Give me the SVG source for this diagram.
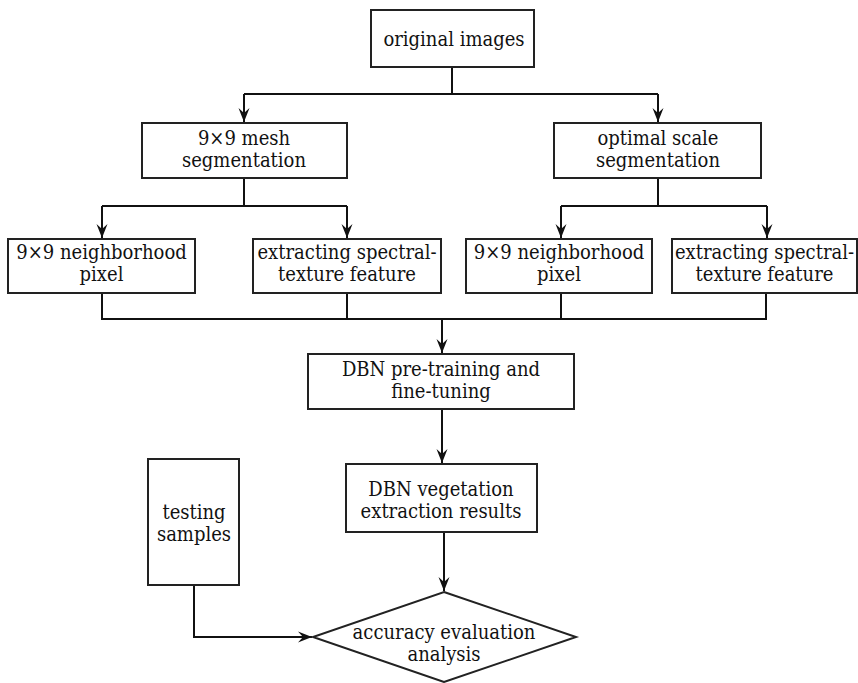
<svg xmlns="http://www.w3.org/2000/svg" width="858" height="683" viewBox="0 0 858 683">
<style>
.box{fill:#fff;stroke:#222;stroke-width:2}
.ln{fill:none;stroke:#111;stroke-width:2}
.ar{fill:none;stroke:#111;stroke-width:2;marker-end:url(#ah)}
.t{font-family:'DejaVu Serif Condensed','DejaVu Serif',serif;font-stretch:condensed;font-size:20px;fill:#111;text-anchor:middle}
</style>
<defs>
<marker id="ah" markerUnits="userSpaceOnUse" markerWidth="16" markerHeight="12" viewBox="-14 -6 16 12" refX="0" refY="0" orient="auto">
<path d="M0,0 L-14,-5.5 L-9,0 L-14,5.5 Z" fill="#111"/>
</marker>
</defs>
<rect width="858" height="683" fill="#fff"/>
<g id="connectors">
<path class="ln" d="M452,67 V94 M244,94 H658"/>
<path class="ar" d="M244,94 V122"/>
<path class="ar" d="M658,94 V122"/>
<path class="ln" d="M244,178 V206 M102,206 H347"/>
<path class="ar" d="M102,206 V238"/>
<path class="ar" d="M347,206 V238"/>
<path class="ln" d="M658,178 V206 M561,206 H767"/>
<path class="ar" d="M561,206 V238"/>
<path class="ar" d="M767,206 V238"/>
<path class="ln" d="M102,293 V319 M347,293 V319 M561,293 V319 M766,293 V319 M101,319 H767"/>
<path class="ar" d="M442,319 V353"/>
<path class="ar" d="M442,409 V463"/>
<path class="ar" d="M444,532 V591"/>
<path class="ar" d="M194,585 V637 H312"/>
</g>
<g id="original">
<rect class="box" x="371" y="10" width="163" height="57"/>
<text class="t" x="454" y="46">original images</text>
</g>
<g id="mesh">
<rect class="box" x="142" y="123" width="205" height="55"/>
<text class="t" x="244" y="145">9×9 mesh</text>
<text class="t" x="244" y="167">segmentation</text>
</g>
<g id="optimal">
<rect class="box" x="554" y="123" width="207" height="55"/>
<text class="t" x="658" y="145">optimal scale</text>
<text class="t" x="658" y="167">segmentation</text>
</g>
<g id="neigh1">
<rect class="box" x="8" y="239" width="187" height="54"/>
<text class="t" x="101.5" y="259">9×9 neighborhood</text>
<text class="t" x="101.5" y="281">pixel</text>
</g>
<g id="spec1">
<rect class="box" x="253" y="239" width="188" height="54"/>
<text class="t" x="347" y="259">extracting spectral-</text>
<text class="t" x="347" y="281">texture feature</text>
</g>
<g id="neigh2">
<rect class="box" x="466" y="239" width="186" height="54"/>
<text class="t" x="559" y="259">9×9 neighborhood</text>
<text class="t" x="559" y="281">pixel</text>
</g>
<g id="spec2">
<rect class="box" x="672" y="239" width="185" height="54"/>
<text class="t" x="764.5" y="259">extracting spectral-</text>
<text class="t" x="764.5" y="281">texture feature</text>
</g>
<g id="pretrain">
<rect class="box" x="308" y="354" width="266" height="55"/>
<text class="t" x="441" y="376">DBN pre-training and</text>
<text class="t" x="441" y="398">fine-tuning</text>
</g>
<g id="vegetation">
<rect class="box" x="346" y="464" width="191" height="68"/>
<text class="t" x="441" y="496">DBN vegetation</text>
<text class="t" x="441" y="518">extraction results</text>
</g>
<g id="testing">
<rect class="box" x="148" y="459" width="91" height="126"/>
<text class="t" x="194" y="519">testing</text>
<text class="t" x="194" y="541">samples</text>
</g>
<g id="accuracy">
<polygon class="box" points="444,592 576,637 444,682 313,637"/>
<text class="t" x="444" y="639">accuracy evaluation</text>
<text class="t" x="444" y="661">analysis</text>
</g>
</svg>
